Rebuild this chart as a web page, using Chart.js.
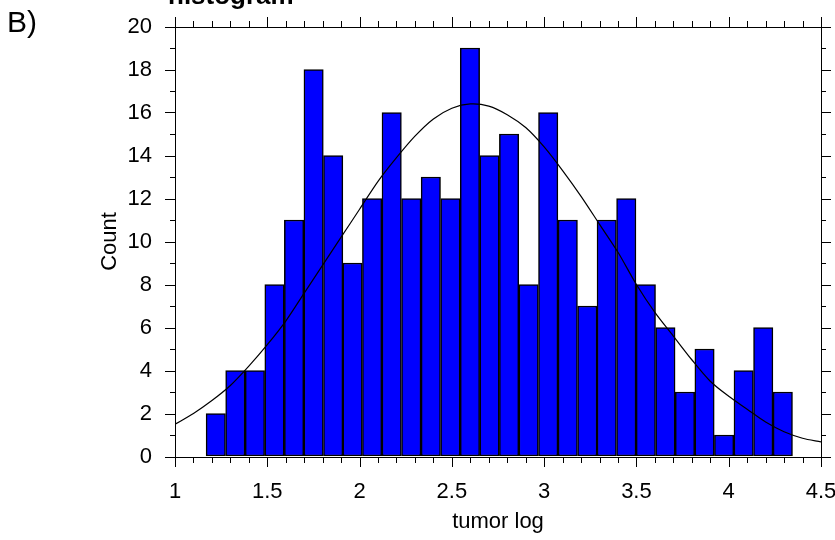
<!DOCTYPE html>
<html>
<head>
<meta charset="utf-8">
<script src="https://cdn.jsdelivr.net/npm/chart.js@4"></script>
<style>
  html, body { margin: 0; padding: 0; background: #fff; }
  #wrap { width: 835px; height: 540px; position: relative; }
</style>
</head>
<body>
<div id="wrap"><canvas id="histChart"></canvas></div>
<script>
// bin centres (tumor log) and counts
const binCenters = [1.221, 1.327, 1.433, 1.539, 1.645, 1.751, 1.857, 1.962, 2.068, 2.174,
	2.280, 2.386, 2.492, 2.598, 2.704, 2.810, 2.916, 3.022, 3.128, 3.234,
	3.339, 3.445, 3.551, 3.657, 3.763, 3.869, 3.975, 4.081, 4.187, 4.293];
const counts = [2, 4, 4, 8, 11, 18, 14, 9, 12, 16,
	12, 13, 12, 19, 14, 15, 8, 16, 11, 7,
	11, 12, 8, 6, 3, 5, 1, 4, 6, 3];

// fitted normal curve
const curveX = [1.0, 1.1, 1.2, 1.3, 1.4, 1.5, 1.6, 1.7, 1.8, 1.9,
	2.0, 2.1, 2.2, 2.3, 2.4, 2.5, 2.6, 2.7, 2.8, 2.9,
	3.0, 3.1, 3.2, 3.3, 3.4, 3.5, 3.6, 3.7, 3.8, 3.9,
	4.0, 4.1, 4.2, 4.3, 4.4, 4.5];
const curveY = [1.5, 2.0, 2.6, 3.3, 4.2, 5.2, 6.3, 7.6, 8.9, 10.2,
	11.5, 12.8, 13.9, 14.9, 15.7, 16.2, 16.4, 16.3, 15.9, 15.3,
	14.4, 13.3, 12.1, 10.8, 9.5, 8.0, 6.7, 5.6, 4.5, 3.5,
	2.8, 2.2, 1.6, 1.15, 0.85, 0.68];

const xTickValues = [1, 1.5, 2, 2.5, 3, 3.5, 4, 4.5];
const yTickValues = [0, 2, 4, 6, 8, 10, 12, 14, 16, 18, 20];

const FONT = "'Liberation Sans', Arial, sans-serif";

// frame, minor/major ticks on all four sides, and the loose texts
const framePlugin = {
	id: 'frame',
	afterDraw(chart) {
		const ctx = chart.ctx;
		const a = chart.chartArea;
		const xs = chart.scales.x, ys = chart.scales.y;
		ctx.save();
		ctx.strokeStyle = '#000';
		ctx.lineWidth = 1;
		ctx.strokeRect(Math.round(a.left) + 0.5, Math.round(a.top) + 0.5,
			Math.round(a.right - a.left), Math.round(a.bottom - a.top));
		ctx.beginPath();
		for (let i = 0; i <= 35; i++) {
			const px = Math.round(xs.getPixelForValue(1 + i * 0.1)) + 0.5;
			const len = i % 5 === 0 ? 10 : 6;
			ctx.moveTo(px, Math.round(a.bottom));
			ctx.lineTo(px, Math.round(a.bottom) + len);
			ctx.moveTo(px, Math.round(a.top));
			ctx.lineTo(px, Math.round(a.top) - len);
		}
		for (let j = 0; j <= 20; j++) {
			const py = Math.round(ys.getPixelForValue(j)) + 0.5;
			const len = j % 2 === 0 ? 10 : 5;
			ctx.moveTo(Math.round(a.left), py);
			ctx.lineTo(Math.round(a.left) - len, py);
			ctx.moveTo(Math.round(a.right), py);
			ctx.lineTo(Math.round(a.right) + len, py);
		}
		ctx.stroke();

		ctx.fillStyle = '#000';
		ctx.textBaseline = 'alphabetic';
		ctx.textAlign = 'left';
		ctx.font = '30px ' + FONT;
		ctx.fillText('B)', 7, 32);
		ctx.font = 'bold 26px ' + FONT;
		ctx.fillText('histogram', 168, 4);
		ctx.restore();
	}
};

const ctx = document.getElementById('histChart').getContext('2d');
const histChart = new Chart(ctx, {
	type: 'bar',
	data: {
		datasets: [{
			type: 'line',
			label: 'Normal fit',
			data: curveX.map((x, i) => ({x: x, y: curveY[i]})),
			borderColor: '#000',
			borderWidth: 1.2,
			pointRadius: 0,
			tension: 0.3,
			fill: false,
			order: 0
		}, {
			label: 'Count',
			data: binCenters.map((x, i) => ({x: x, y: counts[i]})),
			backgroundColor: '#0000ff',
			borderColor: '#000',
			borderWidth: 1.5,
			borderSkipped: false,
			barPercentage: 1,
			categoryPercentage: 1,
			order: 1
		}]
	},
	options: {
		responsive: true,
		maintainAspectRatio: false,
		animation: false,
		devicePixelRatio: 1,
		layout: { padding: { left: 0, right: 14, top: 26.5, bottom: 0 } },
		plugins: {
			legend: { display: false },
			tooltip: { enabled: false }
		},
		scales: {
			x: {
				type: 'linear',
				offset: false,
				min: 1,
				max: 4.5,
				afterBuildTicks: (s) => { s.ticks = xTickValues.map(v => ({value: v})); },
				afterFit: (s) => { s.height = 83.5; s.paddingLeft = 0; s.paddingRight = 0; },
				ticks: { color: '#000', font: { family: FONT, size: 22 }, padding: 12, maxRotation: 0, autoSkip: false,
					callback: (v) => String(v) },
				grid: { display: true, drawOnChartArea: false, drawTicks: true, tickLength: 10, color: 'transparent', offset: false },
				border: { display: false },
				title: { display: true, text: 'tumor log', color: '#000', font: { family: FONT, size: 22 }, padding: { top: 0, bottom: 4.4 } }
			},
			y: {
				min: 0,
				max: 20,
				afterBuildTicks: (s) => { s.ticks = yTickValues.map(v => ({value: v})); },
				afterFit: (s) => { s.width = 175; s.paddingTop = 0; s.paddingBottom = 0; },
				ticks: { color: '#000', font: { family: FONT, size: 22 }, padding: 13, autoSkip: false,
					callback: (v) => String(v) },
				grid: { display: true, drawOnChartArea: false, drawTicks: true, tickLength: 10, color: 'transparent' },
				border: { display: false },
				title: { display: true, text: 'Count', color: '#000', font: { family: FONT, size: 22 }, padding: { top: 96.8, bottom: 0 } }
			}
		}
	},
	plugins: [framePlugin]
});
</script>
</body>
</html>
